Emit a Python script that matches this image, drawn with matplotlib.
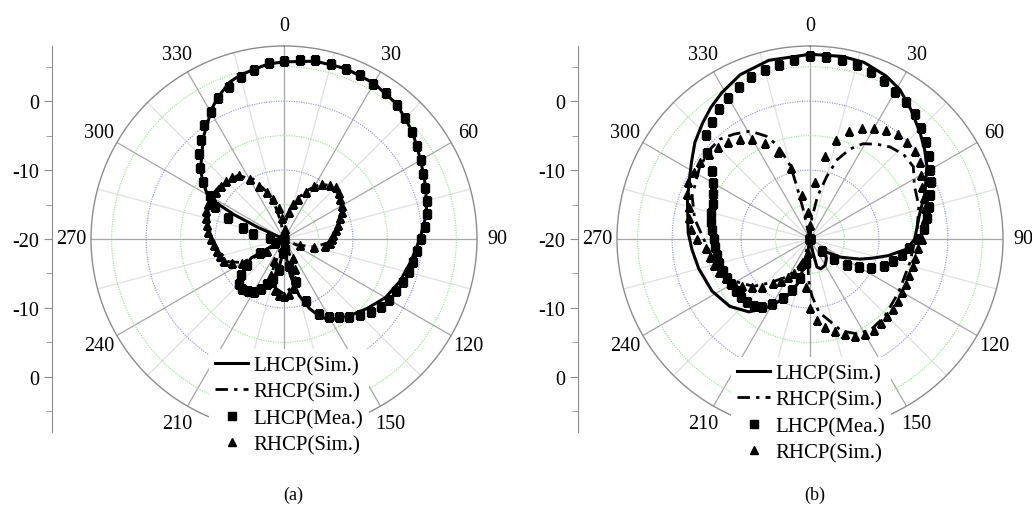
"""Two polar radiation patterns (a)/(b): LHCP/RHCP simulated lines and measured markers."""
import numpy as np
import matplotlib
matplotlib.use("Agg")
import matplotlib.pyplot as plt

plt.rcParams["font.family"] = ["Liberation Serif", "DejaVu Serif"]

R_MIN, R_MAX = -20, 8
MEAS_ANG = list(range(0, 360, 5))
# 180 is hidden behind the legend in the original
THETA_LABELS = ["0", "30", "60", "90", "120", "150", "", "210", "240", "270", "300", "330"]
LEGEND_LABELS = ["LHCP(Sim.)", "RHCP(Sim.)", "LHCP(Mea.)", "RHCP(Sim.)"]

# ---- panel (a) ----
A_LHCP_SIM_ANG = [0, 10, 20, 30, 40, 50, 60, 70, 80, 90, 100, 110, 120, 130, 140, 150, 155, 160,
                  165, 170, 175, 180, 185, 190, 200, 210, 220, 230, 240, 250, 260, 280, 292, 294,
                  296, 298, 300, 305, 310, 318, 321, 325, 331, 335, 341, 345, 351, 355, 360]
A_LHCP_SIM_DB = [5.7, 6.2, 6.3, 6.1, 5.5, 4.3, 2.9, 1.9, 1.0, -0.3, -1.3, -2.1, -3.0, -4.3, -5.4,
                 -6.5, -7.5, -9.3, -11.5, -14.5, -18, -20, -18, -15.5, -13, -11.2, -10.5, -11.5,
                 -14.5, -20, -20, -20, -20, -16, -12, -9, -7.2, -5.6, -4.2, -2.3, -1.3, -0.3, 1.6,
                 2.7, 4.1, 4.6, 5.1, 5.5, 5.7]
A_RHCP_SIM_ANG = [0, 5, 11, 20, 27, 33, 40, 47, 55, 65, 76, 87, 95, 105, 115, 125, 150, 160, 170,
                  180, 190, 200, 210, 230, 236, 241, 248, 261, 272, 281, 293, 303, 311, 324, 333,
                  340, 345, 350, 355, 360]
A_RHCP_SIM_DB = [-20, -17.5, -15.6, -13.5, -11.9, -10.6, -9.8, -9.6, -10.0, -10.8, -12.0, -13.0,
                 -13.6, -15.5, -18, -20, -20, -16, -13, -12, -12.8, -15, -20, -20, -16, -13, -11.2,
                 -10.3, -9.4, -8.9, -8.0, -7.8, -7.9, -8.6, -10.3, -12.7, -15, -17.5, -20, -20]
A_LHCP_MEA_DB = [5.8, 6.1, 6.3, 6.3, 6.3, 6.2, 5.9, 5.8, 5.4, 4.9, 4.2, 3.6, 2.9, 2.3, 1.8, 1.5,
                 1.1, 0.5, -0.1, -0.6, -1.0, -1.3, -1.6, -2.0, -2.4, -2.8, -3.6, -4.4, -5.3, -6.2,
                 -7.0, -8.0, -10.5, -13.5, -16, -18.5, -20, -18, -15.5, -14, -13, -12, -11.2,
                 -10.8, -10.5, -10.8, -11.8, -13.5, -16, -18.5, -20, -20, -20, -20, -20, -18,
                 -15.5, -13.8, -11.3, -9, -7.6, -5.7, -4, -2.6, -1.3, 0.2, 1.3, 2.5, 3.4, 4.3, 4.9,
                 5.6]
A_RHCP_MEA_DB = [-20, -18.5, -16, -14.8, -13.9, -12.5, -11.2, -10.3, -9.7, -9.4, -9.6, -10.0,
                 -10.3, -10.7, -11.3, -11.9, -12.4, -12.8, -13.0, -13.3, -14.0, -15.5, -17.5, -20,
                 -20, -20, -20, -20, -20, -20, -20, -17, -15.4, -13.8, -12.8, -12.0, -11.7, -11.8,
                 -12.5, -13.5, -14.5, -16.5, -20, -20, -20, -20, -20, -17, -13, -11.6, -10.8,
                 -10.4, -10.2, -9.8, -9.4, -9.0, -8.7, -8.3, -8.0, -7.9, -7.9, -8.0, -8.0, -8.0,
                 -8.3, -8.6, -10.0, -11.5, -12.8, -14, -15.5, -17]

# ---- panel (b) ----
B_LHCP_SIM_ANG = [0, 10, 17, 25, 31, 38, 46, 52, 58, 68, 78, 84, 90, 96, 102, 107, 112, 121, 130,
                  140, 150, 160, 166, 168, 170, 188, 190, 194, 203, 213, 220, 230, 242, 255, 265,
                  273, 288, 297, 303, 310, 317, 323, 329, 337, 347, 360]
B_LHCP_SIM_DB = [6.8, 6.9, 6.8, 6.1, 5.3, 3.8, 2.2, 1.1, 0.0, -2.0, -3.8, -4.4, -4.8, -5.9, -8.4,
                 -10.5, -12.2, -14.9, -17.2, -16.3, -15.6, -15.4, -15.8, -18, -20, -20, -18.5,
                 -13.6, -10.6, -8.0, -6.2, -4.8, -3.9, -3.3, -2.8, -2.3, -1.3, -0.4, 0.5, 1.8, 2.9,
                 3.9, 4.8, 5.9, 6.6, 6.8]
B_RHCP_SIM_ANG = [0, 5, 10, 15, 19, 24, 29, 35, 41, 48, 55, 63, 73, 85, 103, 121, 136, 145, 153,
                  161, 173, 178, 182, 186, 190, 197, 204, 212, 222, 230, 241, 254, 266, 280, 290,
                  303, 312, 318, 324, 331, 337, 341, 345, 346, 347, 350, 360]
B_RHCP_SIM_DB = [-20, -17, -13.7, -10.6, -7.8, -5.7, -4.2, -3.2, -2.3, -1.7, -1.7, -3.0, -3.5,
                 -4.4, -5.1, -5.0, -4.4, -4.2, -4.5, -5.9, -9.3, -11.7, -14, -17, -20, -17, -15,
                 -13.5, -11.5, -9.3, -7.4, -5.9, -5.0, -3.0, -1.8, -0.9, -0.5, -0.5, -1.2, -2.1,
                 -3.8, -5.7, -9.0, -12.1, -15.5, -20, -20]
B_LHCP_MEA_DB = [6.5, 6.5, 6.4, 6.2, 5.8, 5.3, 4.7, 4.2, 3.6, 2.7, 1.9, 1.1, 0.1, -0.6, -1.5,
                 -2.1, -2.8, -3.4, -4.4, -5.6, -6.5, -7.5, -8.6, -10.2, -11.8, -13.5, -15.5, -17.5,
                 -20, -20, -20, -20, -20, -20, -20, -20, -20, -20, -16.5, -14.2, -12.2, -10.6,
                 -9.1, -7.9, -7.4, -7.1, -7.0, -6.9, -6.8, -6.7, -6.6, -6.4, -6.3, -6.2, -6.0,
                 -5.75, -5.4, -5.2, -5.0, -4.4, -3.8, -2.7, -0.5, 1.3, 2.1, 3.0, 3.7, 4.4, 5.0, 5.4,
                 5.7, 6.1]
B_RHCP_MEA_DB = [-18, -11.7, -7.8, -5.2, -3.4, -2.3, -1.4, -0.7, -0.1, 0.0, -0.1, -0.6, -1.4,
                 -2.0, -2.4, -2.8, -3.1, -3.4, -3.8, -4.2, -4.5, -4.6, -4.7, -4.7, -4.6, -4.4, -4.2,
                 -4.1, -4.0, -3.9, -4.1, -4.5, -5.3, -6.2, -7.1, -8.2, -10.0, -13, -18, -20, -16,
                 -14.6, -13.6, -12.6, -11.6, -10.2, -9.1, -8.0, -7.3, -6.6, -6.0, -5.6, -5.2, -4.8,
                 -3.6, -2.7, -2.2, -1.8, -1.0, -0.5, -0.5, -0.6, -0.8, -1.2, -1.6, -2.3, -3.3,
                 -4.6, -6.6, -9.4, -13.5, -16]

W, H = 1032, 506
FS = 14.5


def setup_polar(ax):
    ax.set_theta_zero_location("N")
    ax.set_theta_direction(-1)
    ax.set_rlim(R_MIN, R_MAX)
    ax.set_yticks([])
    ax.set_thetagrids(range(0, 360, 30), THETA_LABELS, fontsize=FS)
    ax.tick_params(axis="x", pad=4)
    ax.grid(False)
    ax.spines["polar"].set_color("#8c8c8c")
    ax.spines["polar"].set_linewidth(1.0)
    for a in range(0, 360, 15):
        col = "#a6a6a6" if a % 30 == 0 else "#e0e0e0"
        ax.plot([np.deg2rad(a)] * 2, [R_MIN, R_MAX], color=col, lw=0.9, zorder=1)
    th = np.linspace(0, 2 * np.pi, 400)
    for r, col in ((5, "#8fe08f"), (-5, "#8fe08f"), (-15, "#8fe08f"),
                   (0, "#8c8cf0"), (-10, "#8c8cf0")):
        ax.plot(th, np.full_like(th, r), color=col, lw=0.8, ls=(0, (1, 1.2)), zorder=1)


def setup_left_axis(lax):
    lax.set_ylim(-(R_MAX - R_MIN), R_MAX - R_MIN)
    lax.patch.set_visible(False)
    for s in ("top", "right", "bottom"):
        lax.spines[s].set_visible(False)
    lax.spines["left"].set_color("#8c8c8c")
    lax.set_xticks([])
    lax.set_yticks([-20, -10, 0, 10, 20])
    lax.set_yticklabels(["0", "-10", "-20", "-10", "0"], fontsize=FS)
    lax.set_yticks([-25, -15, -5, 5, 15, 25], minor=True)
    lax.tick_params(axis="y", which="major", length=6, color="#8c8c8c", pad=3)
    lax.tick_params(axis="y", which="minor", length=4, color="#8c8c8c")


def draw_panel(fig, cx, cy, axis_x, lhcp_sim, rhcp_sim, lhcp_mea, rhcp_mea, leg_xy, tag):
    rad = 193
    ax = fig.add_axes([(cx - rad) / W, (H - cy - rad) / H, 2 * rad / W, 2 * rad / H],
                      projection="polar")
    setup_polar(ax)
    lax = fig.add_axes([axis_x / W, (H - cy - rad) / H, 0.0001, 2 * rad / H])
    setup_left_axis(lax)

    h1, = ax.plot(np.deg2rad(lhcp_sim[0]), lhcp_sim[1], color="black", lw=2.2, zorder=4)
    h2, = ax.plot(np.deg2rad(rhcp_sim[0]), rhcp_sim[1], color="black", lw=2.0,
                  ls=(0, (4.5, 2.2, 1.2, 2.2)), zorder=4)
    h3, = ax.plot(np.deg2rad(MEAS_ANG), lhcp_mea, ls="none", marker="s", ms=5.2,
                  color="black", zorder=5)
    h4, = ax.plot(np.deg2rad(MEAS_ANG), rhcp_mea, ls="none", marker="^", ms=6.0,
                  color="black", zorder=5)

    leg = fig.legend([h1, h2, h3, h4], LEGEND_LABELS, loc="center",
                     bbox_to_anchor=(leg_xy[0] / W, 1 - leg_xy[1] / H), fontsize=15,
                     frameon=True, framealpha=1, facecolor="white", edgecolor="none",
                     fancybox=False, handlelength=1.6, handletextpad=0.25,
                     labelspacing=0.33, borderpad=0.3, borderaxespad=0)
    leg.set_zorder(10)
    fig.text(tag[1] / W, 1 - tag[2] / H, tag[0], ha="center", va="center", fontsize=13)


def main():
    fig = plt.figure(figsize=(W / 100, H / 100), dpi=100)
    draw_panel(fig, 284, 240, 52,
               (A_LHCP_SIM_ANG, A_LHCP_SIM_DB), (A_RHCP_SIM_ANG, A_RHCP_SIM_DB),
               A_LHCP_MEA_DB, A_RHCP_MEA_DB, (289, 406), ("(a)", 293, 495))
    draw_panel(fig, 810, 240, 578,
               (B_LHCP_SIM_ANG, B_LHCP_SIM_DB), (B_RHCP_SIM_ANG, B_RHCP_SIM_DB),
               B_LHCP_MEA_DB, B_RHCP_MEA_DB, (811, 414), ("(b)", 815, 495))
    fig.savefig("out.png", dpi=100)


if __name__ == "__main__":
    main()
